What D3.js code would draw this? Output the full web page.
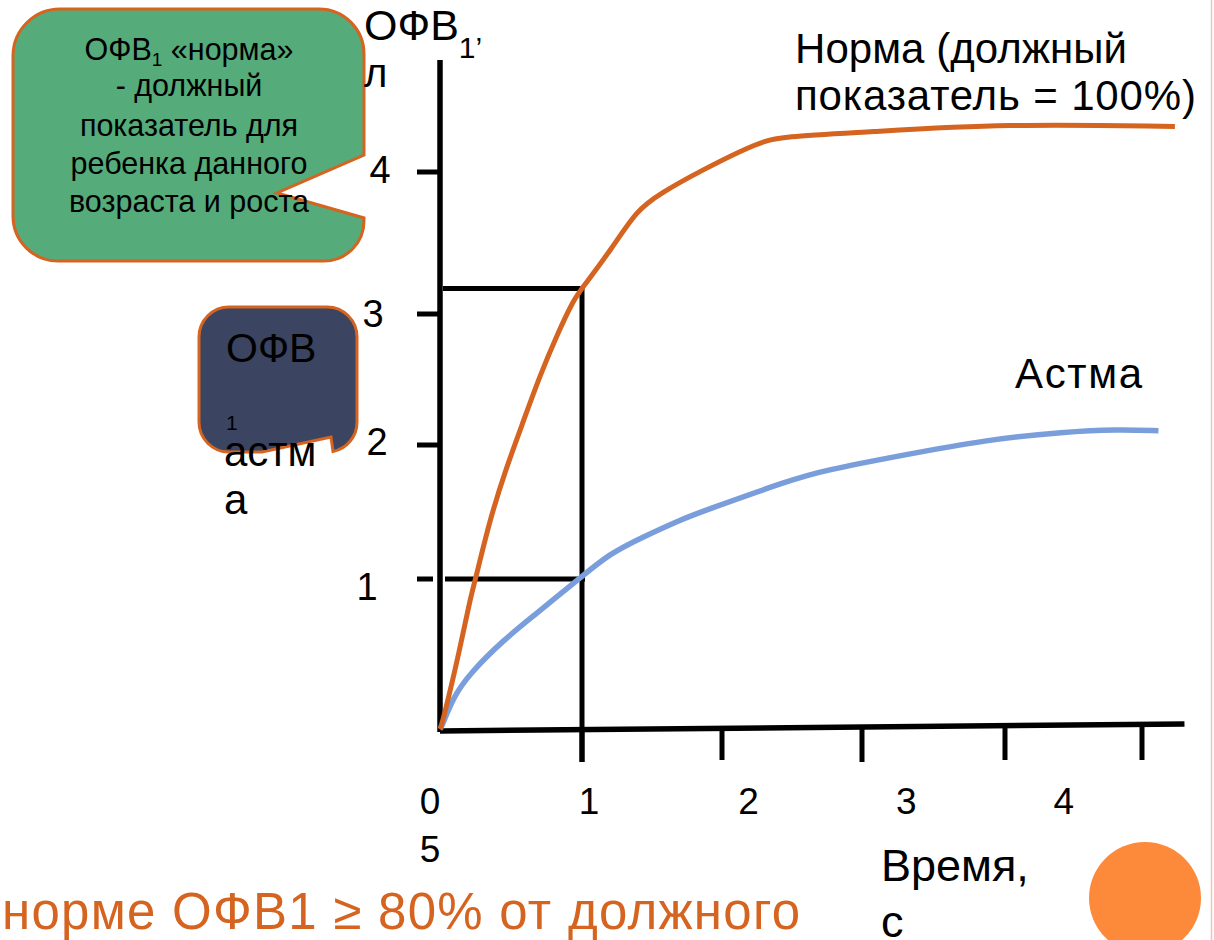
<!DOCTYPE html>
<html>
<head>
<meta charset="utf-8">
<script src="https://cdn.jsdelivr.net/npm/d3@7/dist/d3.min.js"></script>
<style>
  html, body { margin: 0; padding: 0; background: #fff; }
  svg { display: block; font-family: "Liberation Sans", Arial, sans-serif; }
</style>
</head>
<body>
<svg id="chart" width="1214" height="940"></svg>
<script>
// ---------- data ----------
// Time, s
const normaTime  = [0, 0.02, 0.14, 0.21, 0.26, 0.35, 0.47, 0.59, 0.70, 0.82, 0.94, 1.0, 1.22, 1.39, 1.56, 1.85, 2.26, 2.43, 3.01, 4.0, 5.24];
// FEV1, l  (Норма)
const normaFEV   = [0, 0.05, 0.53, 0.86, 1.04, 1.44, 1.84, 2.19, 2.52, 2.83, 3.10, 3.18, 3.47, 3.73, 3.85, 4.01, 4.21, 4.25, 4.28, 4.34, 4.32];
const asthmaTime = [0, 0.012, 0.094, 0.211, 0.446, 0.681, 0.845, 0.986, 1.2, 1.44, 1.70, 1.85, 2.49, 2.72, 3.29, 3.86, 4.44, 4.82, 5.12];
// FEV1, l  (Астма)
const asthmaFEV  = [0, 0.015, 0.215, 0.371, 0.593, 0.771, 0.90, 1.007, 1.192, 1.316, 1.44, 1.502, 1.739, 1.808, 1.925, 2.038, 2.102, 2.12, 2.109];

const yTicks = [1, 2, 3, 4];
const yTickLabels = ["1", "2", "3", "4"];
const xTicks = [1, 2, 3, 4, 5];
const xTickLabels = [["0", "5"], ["1"], ["2"], ["3"], ["4"]];

// reference lines at t = 1 s
const refTime = 1;
const refNorma = 3.18;
const refAsthma = 1.0;

// ---------- layout ----------
const svg = d3.select("#chart");
const ORANGE = "#D4641F";
const BLUE = "#7A9EDC";

// slide axes are hand-drawn; piecewise scales follow the drawn tick marks
const x = d3.scaleLinear().domain([0, 1, 2, 3, 4, 5]).range([440, 582, 722, 862, 1005, 1142]);
const y = d3.scaleLinear().domain([0, 1, 2, 3, 4]).range([729, 579, 445, 314, 172]);

// right-edge thin slide border
svg.append("line").attr("x1", 1211.5).attr("x2", 1211.5).attr("y1", 0).attr("y2", 940)
  .attr("stroke", "#F2C3B3").attr("stroke-width", 1.5);

// ---------- green callout ----------
svg.append("path")
  .attr("d", "M 60,9 H 319 A 45 45 0 0 1 364 54 V 155 L 277 193 L 364 218 V 221 A 40 40 0 0 1 324 261 H 58 A 45 45 0 0 1 13 216 V 56 A 47 47 0 0 1 60 9 Z")
  .attr("fill", "#55AB7A").attr("stroke", ORANGE).attr("stroke-width", 3);

const gLines = [
  null,
  "- должный",
  "показатель для",
  "ребенка данного",
  "возраста и роста"
];
const gText = svg.append("g").attr("font-size", 30.5).attr("fill", "#000").attr("text-anchor", "middle");
const t0 = gText.append("text").attr("x", 189).attr("y", 60);
t0.append("tspan").text("ОФВ");
t0.append("tspan").attr("font-size", 19).attr("dy", 6).text("1");
t0.append("tspan").attr("dy", -6).text(" «норма»");
[96, 136, 174, 212].forEach((yy, i) => {
  gText.append("text").attr("x", 189).attr("y", yy).text(gLines[i + 1]);
});

// ---------- dark callout ----------
svg.append("path")
  .attr("d", "M 229,307 H 327 A 30 30 0 0 1 357 337 V 422 A 30 30 0 0 1 333 451.5 L 331 437 L 262 452 H 229 A 30 30 0 0 1 199 422 V 337 A 30 30 0 0 1 229 307 Z")
  .attr("fill", "#3B4461").attr("stroke", ORANGE).attr("stroke-width", 3);
const dText = svg.append("g").attr("fill", "#000");
dText.append("text").attr("x", 226).attr("y", 362).attr("font-size", 41).text("ОФВ");
dText.append("text").attr("x", 226).attr("y", 430).attr("font-size", 21).text("1");
dText.append("text").attr("x", 224).attr("y", 466).attr("font-size", 42).text("астм");
dText.append("text").attr("x", 224).attr("y", 514).attr("font-size", 42).text("а");

// ---------- axes ----------
// y axis line
svg.append("line").attr("x1", x(0)).attr("x2", x(0)).attr("y1", 60).attr("y2", y(0) + 3)
  .attr("stroke", "#000").attr("stroke-width", 5.5);
// y ticks
svg.selectAll(".ytick").data(yTicks).join("line")
  .attr("class", "ytick")
  .attr("x1", 417).attr("x2", (d) => d === 1 ? 433 : x(0))
  .attr("y1", d => y(d)).attr("y2", d => y(d))
  .attr("stroke", "#000").attr("stroke-width", 5);
const yLabX = [367, 377, 373, 380];
const yLabDy = [21, 10, 13, 11];
svg.selectAll(".ylab").data(yTicks).join("text")
  .attr("class", "ylab")
  .attr("x", (d, i) => yLabX[i]).attr("y", (d, i) => y(d) + yLabDy[i])
  .attr("text-anchor", "middle").attr("font-size", 38).attr("fill", "#000")
  .text((d, i) => yTickLabels[i]);

// y axis title
const yt = svg.append("text").attr("x", 364).attr("y", 40).attr("font-size", 43).attr("fill", "#000");
yt.append("tspan").text("ОФВ");
yt.append("tspan").attr("font-size", 30).attr("dy", 18).text("1’");
svg.append("text").attr("x", 364).attr("y", 87).attr("font-size", 40).attr("fill", "#000").text("л");

// x axis line (slightly tilted on the slide)
svg.append("line").attr("x1", x(0)).attr("y1", y(0) + 2).attr("x2", x(5.31)).attr("y2", y(0) - 5)
  .attr("stroke", "#000").attr("stroke-width", 5.5);
// x ticks
const xTickBottom = [762, 760, 762, 760, 760];
svg.selectAll(".xtick").data(xTicks).join("line")
  .attr("class", "xtick")
  .attr("x1", d => x(d)).attr("x2", d => x(d))
  .attr("y1", d => y(0) - 2).attr("y2", (d, i) => xTickBottom[i])
  .attr("stroke", "#000").attr("stroke-width", 5);
const xLabPos = [-0.07, 1.05, 2.19, 3.31, 4.43];
const xl = svg.selectAll(".xlab").data(xTickLabels).join("text")
  .attr("class", "xlab")
  .attr("x", (d, i) => x(xLabPos[i])).attr("y", 814)
  .attr("text-anchor", "middle").attr("font-size", 37).attr("fill", "#000");
xl.each(function (d, i) {
  const t = d3.select(this);
  d.forEach((s, k) => {
    t.append("tspan").attr("x", x(xLabPos[i])).attr("dy", k === 0 ? 0 : 48).text(s);
  });
});

// x axis title
svg.append("text").attr("x", 881).attr("y", 881).attr("font-size", 45).attr("fill", "#000").text("Время,");
svg.append("text").attr("x", 881).attr("y", 937).attr("font-size", 45).attr("fill", "#000").text("с");

// ---------- reference box at t = 1 s ----------
svg.append("line").attr("x1", x(0) + 3).attr("x2", x(refTime) + 2)
  .attr("y1", y(refNorma)).attr("y2", y(refNorma))
  .attr("stroke", "#000").attr("stroke-width", 5);
svg.append("line").attr("x1", x(0) + 5).attr("x2", x(refTime) + 3)
  .attr("y1", y(refAsthma)).attr("y2", y(refAsthma))
  .attr("stroke", "#000").attr("stroke-width", 5);
svg.append("line").attr("x1", x(refTime)).attr("x2", x(refTime))
  .attr("y1", y(refNorma) - 2).attr("y2", 762)
  .attr("stroke", "#000").attr("stroke-width", 5);

// ---------- curves ----------
const line = d3.line().x(d => x(d[0])).y(d => y(d[1])).curve(d3.curveBasis);
svg.append("path").datum(asthmaTime.map((t, i) => [t, asthmaFEV[i]]))
  .attr("d", line).attr("fill", "none").attr("stroke", BLUE).attr("stroke-width", 5.5);
svg.append("path").datum(normaTime.map((t, i) => [t, normaFEV[i]]))
  .attr("d", line).attr("fill", "none").attr("stroke", ORANGE).attr("stroke-width", 5);

// ---------- series labels ----------
svg.append("text").attr("x", 795).attr("y", 63).attr("font-size", 42).attr("fill", "#000")
  .attr("textLength", 332).attr("lengthAdjust", "spacing").text("Норма (должный");
svg.append("text").attr("x", 795).attr("y", 110).attr("font-size", 42).attr("fill", "#000")
  .attr("textLength", 401).attr("lengthAdjust", "spacing").text("показатель = 100%)");
svg.append("text").attr("x", 1015).attr("y", 388).attr("font-size", 42).attr("fill", "#000")
  .attr("textLength", 127).attr("lengthAdjust", "spacing").text("Астма");

// ---------- bottom note ----------
svg.append("text").attr("x", 2).attr("y", 929).attr("font-size", 51).attr("fill", ORANGE)
  .attr("textLength", 798).attr("lengthAdjust", "spacing")
  .text("норме ОФВ1 ≥ 80% от должного");

// decorative orange circle
svg.append("ellipse").attr("cx", 1145).attr("cy", 898).attr("rx", 56).attr("ry", 56).attr("fill", "#FD8A3B");
</script>
</body>
</html>
